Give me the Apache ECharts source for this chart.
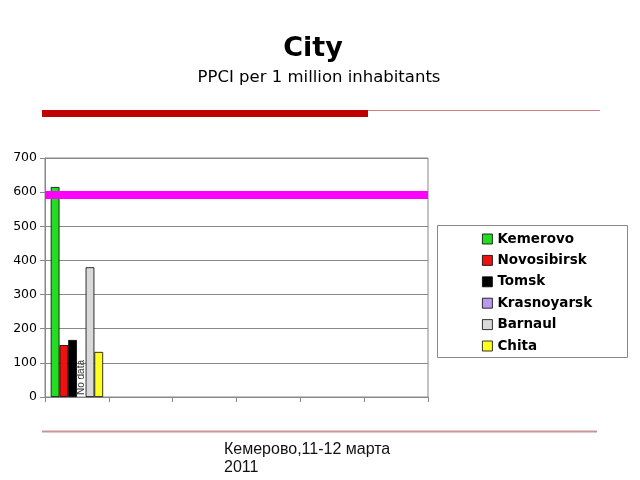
<!DOCTYPE html>
<html><head><meta charset="utf-8">
<script src="https://cdn.jsdelivr.net/npm/echarts@6/dist/echarts.min.js"></script>
<style>html,body{margin:0;padding:0;background:#fff}#c{width:640px;height:480px}</style>
</head><body><div id="c"></div>
<script>
const categories = ['', '', '', '', '', ''];
const cities = ['Kemerovo', 'Novosibirsk', 'Tomsk', 'Krasnoyarsk', 'Barnaul', 'Chita'];
const cityValues = [615, 152, 167, 0, 380, 132];
const cityColors = ['#22dd22', '#ee1111', '#000000', '#bb99ee', '#d9d9d9', '#ffff22'];
const targetLine = 592;
const yTicks = [0, 100, 200, 300, 400, 500, 600, 700];

const chart = echarts.init(document.getElementById('c'), null, {renderer: 'canvas'});
const series = cities.map((name, i) => {
  const data = categories.map((c, j) => j === 0 ? cityValues[i] : '-');
  const s = {
    name: name, type: 'bar', data: data, barGap: '0%', barCategoryGap: '18%',
    itemStyle: {color: cityColors[i], borderColor: '#000', borderWidth: 0.8},
    animation: false
  };
  if (name === 'Krasnoyarsk') {
    s.label = {show: true, formatter: 'No data', position: 'insideBottom', rotate: 90,
      align: 'left', verticalAlign: 'middle', distance: 2, offset: [0, 0],
      fontFamily: 'Liberation Sans', fontSize: 10, color: '#333'};
    s.itemStyle.borderWidth = 0;
  }
  if (i === 0) {
    s.markLine = {silent: true, symbol: 'none', label: {show: false},
      lineStyle: {color: '#ff00ff', width: 8, type: 'solid'},
      data: [{yAxis: targetLine}]};
  }
  return s;
});

chart.setOption({
  animation: false,
  backgroundColor: '#fff',
  title: [
    {text: 'City', left: 308, top: 30, textAlign: 'center',
      textStyle: {fontFamily: 'DejaVu Sans', fontWeight: 'bold', fontSize: 27, color: '#000'}},
    {text: 'PPCI per 1 million inhabitants', left: 314, top: 64, textAlign: 'center',
      textStyle: {fontFamily: 'DejaVu Sans', fontWeight: 'normal', fontSize: 16.5, color: '#000'}}
  ],
  grid: {left: 45, right: 212, top: 158, bottom: 83, show: true, borderColor: '#888', borderWidth: 1, backgroundColor: '#fff'},
  legend: {
    orient: 'vertical', left: 482, top: 232, itemWidth: 10, itemHeight: 10, itemGap: 7.4,
    padding: 0, icon: 'rect', data: cities,
    itemStyle: {borderColor: '#000', borderWidth: 0.8},
    textStyle: {fontFamily: 'DejaVu Sans', fontWeight: 'bold', fontSize: 13.5, color: '#000'}
  },
  xAxis: {type: 'category', data: categories,
    axisLine: {lineStyle: {color: '#888'}}, axisTick: {show: true, length: 5, lineStyle: {color: '#888'}},
    axisLabel: {show: false}},
  yAxis: {type: 'value', min: 0, max: 700, interval: 100,
    axisLine: {show: true, lineStyle: {color: '#888'}}, axisTick: {show: true, length: 5, lineStyle: {color: '#888'}},
    splitLine: {lineStyle: {color: '#888'}},
    axisLabel: {fontFamily: 'DejaVu Sans', fontSize: 12.5, color: '#000', margin: 8,
      formatter: v => yTicks.includes(v) ? String(v) : ''}},
  graphic: [
    {type: 'rect', shape: {x: 437.5, y: 225.5, width: 190, height: 132}, style: {fill: null, stroke: '#888', lineWidth: 1}, z: 100},
    {type: 'rect', shape: {x: 42, y: 110, width: 326, height: 7}, style: {fill: '#c00000'}},
    {type: 'line', shape: {x1: 368, y1: 110.5, x2: 600, y2: 110.5}, style: {stroke: '#d08080', lineWidth: 1}},
    {type: 'line', shape: {x1: 42, y1: 431.5, x2: 597, y2: 431.5}, style: {stroke: '#c89494', lineWidth: 2}},
    {type: 'text', left: 224, top: 441, style: {text: 'Кемерово,11-12 марта\n2011', fontFamily: 'Liberation Sans', fontSize: 16, lineHeight: 18, fill: '#111'}}
  ],
  series: series
});
</script></body></html>
